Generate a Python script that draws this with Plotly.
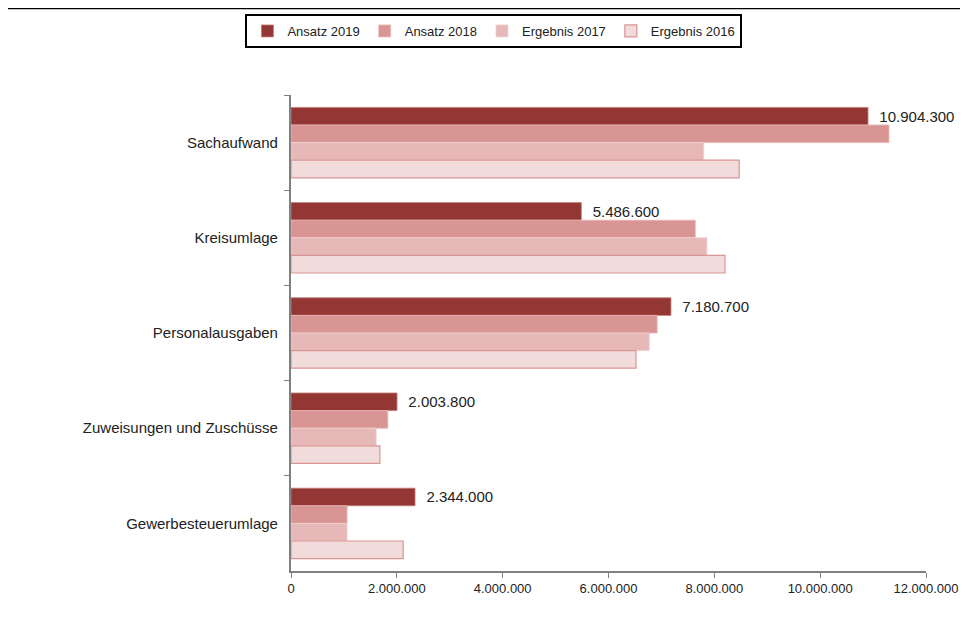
import plotly.graph_objects as go

categories = ["Sachaufwand", "Kreisumlage", "Personalausgaben",
              "Zuweisungen und Zuschüsse", "Gewerbesteuerumlage"]
ansatz_2019 = [10904300, 5486600, 7180700, 2003800, 2344000]
ansatz_2018 = [11300000, 7640000, 6920000, 1830000, 1060000]
ergebnis_2017 = [7800000, 7860000, 6770000, 1610000, 1060000]
ergebnis_2016 = [8470000, 8200000, 6520000, 1680000, 2120000]
x_ticks = [0, 2000000, 4000000, 6000000, 8000000, 10000000, 12000000]


def de_fmt(v):
    return f"{v:,.0f}".replace(",", ".")


series = [
    ("Ansatz 2019", ansatz_2019, "#943634", "#C0807E"),
    ("Ansatz 2018", ansatz_2018, "#D99594", "#E8B8B7"),
    ("Ergebnis 2017", ergebnis_2017, "#E6B9B8", "#F0D2D1"),
    ("Ergebnis 2016", ergebnis_2016, "#F2DCDB", "#D99594"),
]

fig = go.Figure()
for name, vals, color, border in series:
    show_text = name == "Ansatz 2019"
    fig.add_trace(go.Bar(
        y=categories, x=vals, name=name, orientation="h",
        marker=dict(color=color, line=dict(color=border, width=1.2 if name == "Ergebnis 2016" else 0.8)),
        text=["  " + de_fmt(v) for v in vals] if show_text else None,
        textposition="outside" if show_text else "none",
        textfont=dict(size=15, color="#222222"),
        cliponaxis=False,
    ))

fig.update_layout(
    width=968, height=621,
    margin=dict(l=283, r=50, t=87, b=58),
    paper_bgcolor="white", plot_bgcolor="white",
    font=dict(family="Liberation Sans, Arial, sans-serif", size=13, color="#222222"),
    barmode="group", bargap=0.26, bargroupgap=0,
    legend=dict(orientation="h", xref="container", yref="container",
                x=0.502, y=0.963, xanchor="center", yanchor="middle",
                bordercolor="black", borderwidth=2, bgcolor="white",
                font=dict(size=13), itemwidth=30, traceorder="normal"),
    xaxis=dict(range=[0, 12000000], tickvals=x_ticks,
               ticktext=[de_fmt(v) for v in x_ticks],
               showgrid=False, zeroline=False, showline=True, linecolor="#808080",
               linewidth=1.5, ticks="outside", ticklen=5, tickcolor="#808080",
               tickfont=dict(size=13)),
    yaxis=dict(autorange="reversed", showgrid=False, showline=True, linecolor="#808080",
               linewidth=1.5, ticks="outside", tickson="boundaries", ticklen=5,
               tickcolor="#808080", ticksuffix="  ", tickfont=dict(size=15)),
)

fig.add_shape(type="line", xref="paper", yref="paper",
              x0=-283 / 635, x1=685 / 635, y0=(476 - 0.5 + 87) / 476, y1=(476 - 0.5 + 87) / 476,
              line=dict(color="black", width=1.5))

fig.write_html("out.html")
